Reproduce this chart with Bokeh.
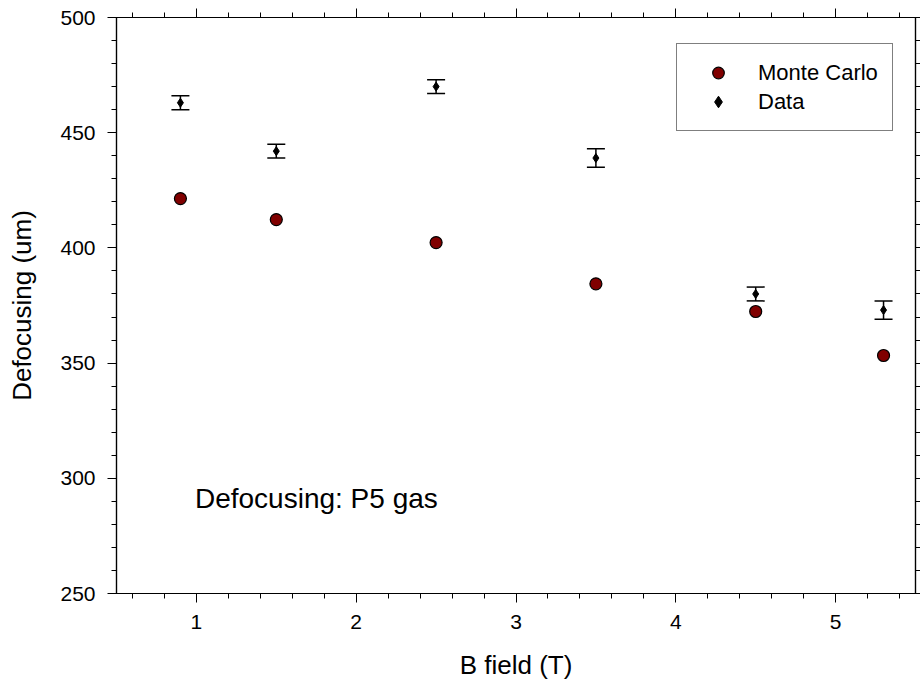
from bokeh.plotting import figure
from bokeh.models import (ColumnDataSource, Whisker, TeeHead, Label, Legend, LegendItem,
                          LinearAxis, SingleIntervalTicker, Range1d, CustomJSTickFormatter)
from bokeh.embed import file_html
from bokeh.resources import INLINE

# Magnetic field values (T)
b_field = [0.9, 1.5, 2.5, 3.5, 4.5, 5.3]
# Simulated defocusing (um)
monte_carlo = [421.4, 412.3, 402.3, 384.4, 372.4, 353.3]
# Measured defocusing (um) and its uncertainty
data_vals = [463.0, 442.0, 470.0, 439.0, 380.0, 373.0]
data_err = [3.0, 3.0, 3.0, 4.0, 3.0, 4.0]

FONT = "Liberation Sans"

mc_src = ColumnDataSource(dict(x=b_field, y=monte_carlo))
data_src = ColumnDataSource(dict(
    x=b_field, y=data_vals,
    lo=[v - e for v, e in zip(data_vals, data_err)],
    hi=[v + e for v, e in zip(data_vals, data_err)],
))

p = figure(width=920, height=690, output_backend="svg", toolbar_location=None,
           x_range=Range1d(0.5, 5.5), y_range=Range1d(250, 500),
           min_border_left=116, min_border_right=5, min_border_top=17, min_border_bottom=97,
           x_axis_label="B field (T)", y_axis_label="Defocusing (um)")
p.xgrid.visible = False
p.ygrid.visible = False
p.outline_line_color = "black"
p.outline_line_width = 1.2
p.background_fill_color = "white"
p.border_fill_color = "white"

xticker = SingleIntervalTicker(interval=1, num_minor_ticks=5)
yticker = SingleIntervalTicker(interval=50, num_minor_ticks=5)
p.xaxis.ticker = xticker
p.yaxis.ticker = yticker


def style_axis(ax):
    ax.axis_line_color = "black"
    ax.axis_line_width = 1.2
    ax.major_tick_line_color = "black"
    ax.minor_tick_line_color = "black"
    ax.major_tick_line_width = 1
    ax.minor_tick_line_width = 1
    ax.major_tick_in = 0
    ax.minor_tick_in = 0
    ax.major_tick_out = 9
    ax.minor_tick_out = 5
    ax.major_label_text_font = FONT
    ax.major_label_text_font_size = "21px"
    ax.major_label_text_color = "black"
    ax.major_label_standoff = 12
    ax.axis_label_text_font = FONT
    ax.axis_label_text_font_size = "26px"
    ax.axis_label_text_font_style = "normal"
    ax.axis_label_text_color = "black"


for ax in (p.xaxis[0], p.yaxis[0]):
    style_axis(ax)
p.xaxis.axis_label_standoff = 18
p.yaxis.axis_label_standoff = 20

# Mirror axes on the top and right, ticks only
blank = CustomJSTickFormatter(code="return ''")
top = LinearAxis(ticker=xticker, formatter=blank)
right = LinearAxis(ticker=yticker, formatter=blank)
for ax in (top, right):
    style_axis(ax)
    ax.major_label_standoff = 0
    ax.major_label_text_font_size = "1px"
right.major_tick_out = 5
right.minor_tick_out = 5
p.add_layout(top, "above")
p.add_layout(right, "right")

# Measured points with error bars
whisker = Whisker(source=data_src, base="x", upper="hi", lower="lo",
                  line_color="black", line_width=1.5,
                  upper_head=TeeHead(size=18, line_color="black", line_width=1.5),
                  lower_head=TeeHead(size=18, line_color="black", line_width=1.5))
p.add_layout(whisker)
r_data = p.scatter("x", "y", source=data_src, marker="diamond", size=9,
                   fill_color="black", line_color="black")

# Monte Carlo points
r_mc = p.scatter("x", "y", source=mc_src, marker="circle", size=12,
                 fill_color="#800000", line_color="black", line_width=1.2)

legend = Legend(items=[LegendItem(label="Monte Carlo", renderers=[r_mc]),
                       LegendItem(label="Data", renderers=[r_data])],
                location=(560, 462))
legend.label_text_font = FONT
legend.label_text_font_size = "22px"
legend.label_text_color = "black"
legend.border_line_color = "black"
legend.border_line_width = 1
legend.background_fill_color = "white"
legend.background_fill_alpha = 1
legend.padding = 14
legend.spacing = 0
legend.glyph_width = 54
legend.glyph_height = 29
legend.label_height = 29
legend.label_standoff = 13
legend.margin = 0
p.add_layout(legend)

p.add_layout(Label(x=0.991, y=291.4, text="Defocusing: P5 gas",
                   text_font=FONT, text_font_size="28px", text_color="black",
                   text_baseline="alphabetic", text_align="left"))

open("out.html", "w").write(file_html(p, INLINE))
